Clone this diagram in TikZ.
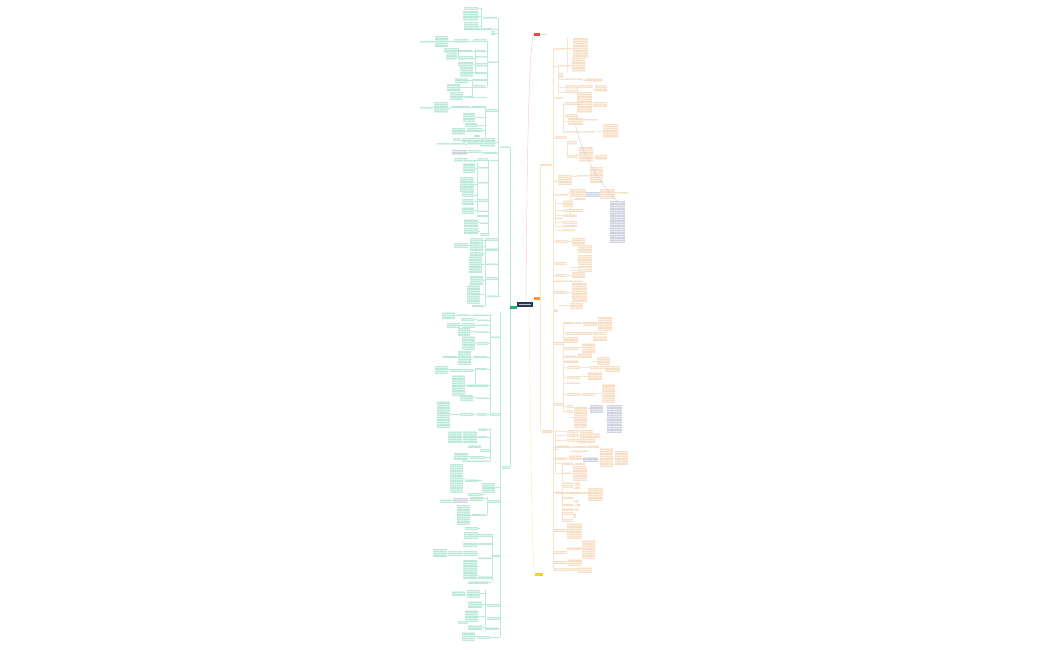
\documentclass[tikz,border=0pt]{standalone}
\usetikzlibrary{patterns.meta}
\definecolor{gbg}{RGB}{222,245,236}
\definecolor{gtx}{RGB}{185,232,214}
\definecolor{gln}{RGB}{185,236,214}
\definecolor{obg}{RGB}{252,240,227}
\definecolor{otx}{RGB}{246,222,198}
\definecolor{oln}{RGB}{251,228,206}
\definecolor{ybg}{RGB}{234,235,242}
\definecolor{ytx}{RGB}{205,208,222}
\definecolor{navy}{RGB}{44,54,90}
\definecolor{gmain}{RGB}{32,178,125}
\definecolor{rmain}{RGB}{235,72,62}
\definecolor{omain}{RGB}{246,152,52}
\definecolor{ymain}{RGB}{245,206,40}
\definecolor{rln}{RGB}{249,200,200}
\definecolor{yln}{RGB}{249,236,175}
\definecolor{relln}{RGB}{205,208,222}
\tikzset{
  boxbase/.style={anchor=north west,inner sep=0pt,outer sep=0pt,draw=none},
  gbox/.style={boxbase,fill=gbg,postaction={pattern={Lines[angle=0,distance=1.7pt,line width=.5pt]},pattern color=gtx}},
  obox/.style={boxbase,fill=obg,postaction={pattern={Lines[angle=0,distance=1.7pt,line width=.5pt]},pattern color=otx}},
  ybox/.style={boxbase,fill=ybg,postaction={pattern={Lines[angle=0,distance=1.7pt,line width=.5pt]},pattern color=ytx}},
  gline/.style={draw=gln,line width=.4pt},
  oline/.style={draw=oln,line width=.4pt},
}
\begin{document}
\begin{tikzpicture}[x=1pt,y=-1pt]
\useasboundingbox[fill=white] (0,0) rectangle (1050,650);
% ---------- main connectors ----------
\draw[draw=rln,line width=.45pt] (526,302) .. controls (527,150) and (529,40) .. (534,34.5);
\draw[draw=yln,line width=.45pt] (529,307) .. controls (531,450) and (532,570) .. (535,574);
\draw[oline] (531,302) .. controls (532,298.5) .. (534,298);
\draw[gline] (518,305) -- (517,307);
% ---------- green verticals ----------
\foreach \vx/\va/\vb in {498/18/296,500/312/637,510/147/467,481/8/29,487/41/87,485/106/147,488/160/236,485/238/306,
  490/314/413,490/428/461,487/497/515,492/534/581,485/590/630,475/50/72,477/163/213,475/369/384,458/48/60,472/79/97}
  \draw[gline] (\vx,\va) -- (\vx,\vb);
% ---------- orange verticals ----------
\foreach \vx/\va/\vb in {553/48/569,540/165/430,558/66/92,563/103/133,567/38/72,577/86/113,563/322/411,567/140/158,
  555/198/226,555/430/474,562/462/520,570/190/218,573/430/441,567/523/538}
  \draw[oline] (\vx,\va) -- (\vx,\vb);
% ---------- green boxes (left) ----------
\foreach \bx/\by/\bw/\bh/\bt [count=\n] in {
464/7/14/3/481,463/11/15/10/481,464/22/14/8/481,483/17/14/2/498,470/28/10/2/482,482/28/10/2/498,491/31/4/4/498,
420/41/17/2/435,435/36/13/11/454,454/40/14/3/473,473/40/14/2/487,444/48/14/5/458,446/54/11/6/458,458/50/14/2/475,
475/50/10/2/487,458/57/15/3/475,475/56/12/2/487,487/61/11/2/498,458/62/15/5/475,460/67/13/10/475,475/63/12/4/487,
475/72/12/2/487,455/78/13/5/472,472/79/15/2/487,447/84/13/7/472,472/86/13/2/487,450/92/13/8/465,465/96/8/2/487,
420/107/13/2/434,434/103/14/10/451,451/106/19/2/472,472/106/13/2/486,486/110/12/2/498,463/113/12/9/485,
465/123/12/4/485,452/128/13/7/467,467/128/15/4/485,474/135/6/2/480,480/138/15/9/498,453/139/7/2/462,
462/139/18/4/480,437/143/13/2/451,451/143/14/2/467,467/143/13/2/480,468/151/14/2/483,483/152/14/2/498,
454/158/14/4/468,468/160/9/2/477,477/159/11/2/498,463/163/12/10/477,477/167/11/2/488,460/177/14/15/477,
477/182/11/2/488,462/193/12/4/477,462/199/12/5/477,477/199/11/2/488,462/207/12/7/477,477/210/10/2/488,
477/215/11/2/488,464/219/14/7/480,480/222/8/2/488,464/228/14/6/480,480/233/8/2/488,470/238/13/4/485,
485/238/13/2/498,454/243/14/4/470,470/243/13/7/485,485/248/13/2/498,470/252/13/3/485,469/256/13/17/485,
485/263/13/2/498,470/276/13/8/485,485/277/13/2/498,467/285/13/18/485,472/305/11/2/485,487/295/13/2/498,
500/146/9/2/510,
442/312/13/6/457,457/314/13/2/473,473/314/14/2/490,461/318/13/2/477,477/319/11/2/490,447/323/13/4/462,
462/323/13/4/477,477/324/11/2/490,458/328/12/7/477,477/331/11/2/490,462/336/13/14/477,477/342/11/2/490,
490/336/10/2/500,443/356/14/2/458,458/351/13/14/473,473/356/14/2/490,435/366/13/7/450,450/369/12/2/463,
463/369/10/2/475,475/368/12/2/490,452/375/13/20/467,467/384/13/2/480,480/384/8/2/490,460/395/13/5/477,
477/397/11/2/490,437/401/13/27/460,460/413/13/2/477,477/413/10/2/490,490/413/10/2/500,448/431/14/12/463,
463/431/14/12/478,478/428/9/2/490,478/436/9/2/490,468/445/13/2/480,480/449/10/2/490,454/453/14/7/470,
470/456/15/2/490,462/460/13/2/475,475/460/12/2/490,502/466/8/2/510,450/464/13/28/465,465/479/13/2/482,
482/483/13/9/500,468/493/14/2/485,470/497/13/3/487,440/499/12/3/453,487/500/13/2/500,457/505/13/20/472,
472/514/13/2/487,465/527/13/2/480,464/532/14/6/478,478/534/14/2/492,463/543/14/4/478,478/543/14/2/492,
433/549/14/8/448,448/551/14/4/463,463/551/14/4/478,478/557/14/2/492,492/555/8/2/500,463/560/14/12/478,
463/572/14/7/478,478/576/14/2/492,468/581/10/2/478,478/581/10/2/492,452/591/13/5/467,467/590/13/7/485,
468/601/14/7/487,487/604/13/2/500,465/610/13/12/485,487/617/13/2/500,458/621/10/2/468,468/625/14/5/485,
485/627/13/2/500,462/632/13/8/477,477/636/13/2/500}
{
  \pgfmathsetmacro\my{\by+\bh/2}
  \node[gbox,minimum width=\bw pt,minimum height=\bh pt] (g\n) at (\bx,\by) {};
  \draw[gline] (g\n.east) -- (\bt,\my);
}
% grey boxes on the left
\foreach \bx/\by/\bw/\bh/\bt [count=\n] in {452/150/15/5/468,453/498/15/4/470}
{
  \pgfmathsetmacro\my{\by+\bh/2}
  \node[ybox,minimum width=\bw pt,minimum height=\bh pt] (gy\n) at (\bx,\by) {};
  \draw[gline] (gy\n.east) -- (\bt,\my);
}
% ---------- orange boxes (right) ----------
\foreach \bx/\by/\bw/\bh/\bt [count=\n] in {
555/48/12/2/553,573/38/15/20/567,572/58/13/14/567,558/65/12/2/553,559/73/4/2/558,559/76/4/2/558,565/78/10/2/558,
577/78/6/2/575,585/78/17/4/583,565/86/12/3/558,578/86/15/2/577,595/86/12/6/593,565/91/12/2/558,555/97/8/2/553,
578/92/14/21/577,565/103/12/2/563,593/103/14/4/592,565/114/13/4/563,568/118/15/7/563,583/119/14/2/583,
603/125/15/13/597,565/131/15/2/563,583/131/12/2/580,555/137/12/2/553,568/141/9/4/567,579/147/14/15/577,
595/155/12/5/593,567/156/11/2/567,540/164/12/2/553,554/180/4/2/553,558/176/14/9/558,577/175/13/2/572,
590/168/13/15/590,555/194/13/2/553,570/190/16/7/568,600/190/15/8/600,615/192/13/2/615,563/200/10/7/555,
575/198/10/2/573,563/209/14/2/555,577/209/6/2/577,563/214/14/3/555,555/217/8/2/553,563/221/14/3/555,
563/225/14/2/555,563/229/12/2/555,555/240/13/2/553,572/238/13/7/568,578/245/14/8/577,578/255/14/10/577,
555/262/12/2/553,578/266/14/2/570,578/269/14/2/570,555/274/12/2/553,572/272/13/6/567,555/280/12/2/553,
569/280/14/2/567,553/291/14/2/553,572/283/15/19/567,553/309/5/2/553,570/303/13/5/558,563/322/10/2/563,
575/322/6/2/573,583/322/14/3/581,598/317/14/13/597,553/342/10/2/553,565/332/12/2/563,578/332/14/2/577,
593/332/14/2/592,563/337/15/5/563,593/336/14/4/593,563/347/15/3/563,582/343/13/9/578,563/355/14/2/563,
578/353/14/4/577,563/360/15/3/563,597/357/13/8/592,567/366/13/2/563,590/366/15/2/580,605/366/15/6/605,
567/376/13/2/563,588/372/14/8/580,567/382/13/2/563,567/393/13/2/563,582/393/13/2/580,602/384/13/18/595,
553/403/10/2/553,567/405/6/2/563,574/407/13/21/570,567/410/6/2/563,542/430/10/2/553,567/430/11/2/555,
580/430/13/2/578,567/434/11/2/555,580/433/20/4/578,567/439/11/2/555,578/438/17/5/578,553/447/5/2/553,
558/445/12/3/555,573/446/14/2/570,588/445/11/3/587,572/450/16/2/570,600/448/13/19/600,615/451/13/14/613,
553/457/14/2/553,569/455/13/4/567,562/462/11/2/555,575/463/10/2/573,573/466/14/14/573,562/472/10/2/555,
555/491/7/2/553,562/482/11/2/562,575/482/5/3/573,562/485/11/2/562,575/487/5/2/573,562/492/11/2/562,
573/492/15/2/573,588/488/15/12/588,562/497/11/2/562,575/500/3/3/573,562/504/11/2/562,577/504/3/2/573,
562/508/11/2/562,575/508/3/2/573,562/512/11/2/562,573/513/3/5/573,562/519/11/2/562,553/529/14/2/553,
567/523/15/15/567,553/551/14/2/553,567/547/15/2/567,582/540/13/18/582,553/561/14/2/553,568/559/14/6/567,
553/568/14/2/553,567/568/11/2/567,578/567/14/5/578}
{
  \pgfmathsetmacro\my{\by+\bh/2}
  \node[obox,minimum width=\bw pt,minimum height=\bh pt] (o\n) at (\bx,\by) {};
  \draw[oline] (o\n.west) -- (\bt,\my);
}
% grey boxes on the right
\foreach \bx/\by/\bw/\bh/\bt [count=\n] in {586/192/14/5/586,610/201/15/41/610,590/405/13/7/588,607/405/15/28/605,583/457/15/5/582}
{
  \pgfmathsetmacro\my{\by+\bh/2}
  \node[ybox,minimum width=\bw pt,minimum height=\bh pt] (oy\n) at (\bx,\by) {};
  \draw[oline] (oy\n.west) -- (\bt,\my);
}
% relationship curve
\draw[draw=relln,line width=.4pt] (o19.south) .. controls (580,150) and (600,185) .. (oy2.north);
% ---------- main nodes ----------
\node[boxbase,fill=navy,minimum width=16pt,minimum height=5pt] (root) at (517,302) {};
\fill[white!70!navy] (519,303.8) rectangle (531,304.4);
\node[boxbase,fill=gmain,minimum width=7pt,minimum height=2.5pt] (gm) at (510,306) {};
\node[boxbase,fill=rmain,minimum width=6pt,minimum height=3pt] (rm) at (534,33) {};
\node[boxbase,fill=rmain!25,minimum width=6pt,minimum height=1.6pt] (rl) at (541,33.8) {};
\node[boxbase,fill=omain,minimum width=6pt,minimum height=2.5pt] (om) at (534,297) {};
\node[boxbase,fill=ymain,minimum width=8pt,minimum height=2.5pt] (ym) at (535,573) {};
\end{tikzpicture}
\end{document}
